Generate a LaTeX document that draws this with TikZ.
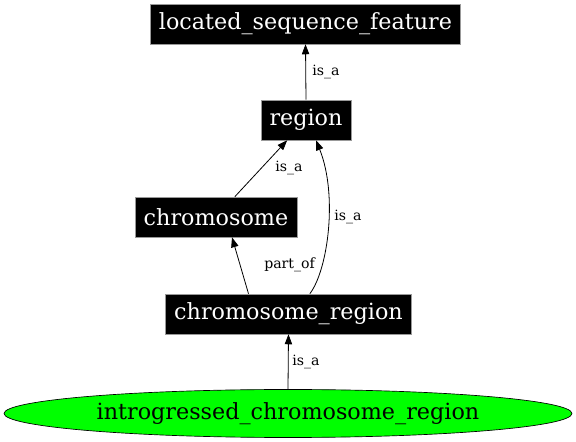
\documentclass[tikz,border=0pt]{standalone}
\usepackage{fontspec}
\setmainfont{DejaVu Serif}
\usetikzlibrary{arrows.meta,shapes.geometric}
\tikzset{
  term/.style={fill=black, draw=black!40, line width=0.4pt, text=white, font=\fontsize{16.7}{19}\selectfont, inner xsep=6.5pt, inner ysep=0pt, minimum height=30pt},
  leaf/.style={ellipse, fill={rgb,255:red,0;green,255;blue,0}, draw=black, line width=0.5pt, font=\fontsize{16.7}{19}\selectfont, minimum width=426pt, minimum height=36pt, inner sep=0pt},
  rel/.style={draw=black, line width=0.6pt, -{Triangle[length=7.5pt,width=5.5pt]}},
  lbl/.style={font=\fontsize{10.6}{12}\selectfont, inner sep=0.75pt}
}
\begin{document}
\begin{tikzpicture}[x=0.75pt,y=0.75pt,yscale=-1,xscale=1]
\useasboundingbox (0,0) rectangle (576,442);
% Terms
\node (lsf) [term] at (305.5,24) {located\_sequence\_feature};
\node (region) [term] at (306,120) {region};
\node (chromosome) [term] at (216,217) {chromosome};
\node (chromreg) [term] at (288.5,314) {chromosome\_region};
\node (introg) [leaf] at (288,413.5) {introgressed\_chromosome\_region};

% Relations
\draw [rel] (region.north) -- (lsf.south);
\draw [rel] (chromosome) -- (region);
\draw [rel] ([xshift=-30pt]chromreg.north) -- ([xshift=12pt]chromosome.south);
\draw [rel] ([xshift=16pt]chromreg.north) .. controls (328,270) and (338,195) .. ([xshift=7.5pt]region.south);
\draw [rel] (introg.north) -- (chromreg.south);

% Labels
\node (l1) [lbl, anchor=west] at (311,72) {is\_a};
\node (l2) [lbl, anchor=west] at (274,168) {is\_a};
\node (l3) [lbl, anchor=west] at (263,265) {part\_of};
\node (l4) [lbl, anchor=west] at (333,217) {is\_a};
\node (l5) [lbl, anchor=west] at (291,362) {is\_a};
\end{tikzpicture}
\end{document}
